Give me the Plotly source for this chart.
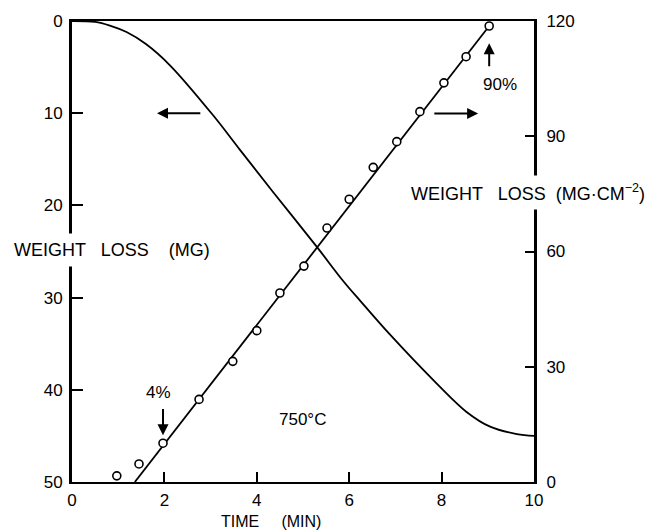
import plotly.graph_objects as go

# Weight loss curve (left axis, MG; reversed)
curve_time = [0, 0.5, 0.82, 1.18, 1.6, 2.12, 3.05, 3.64, 4.36, 5.30, 5.87, 6.23, 6.88, 7.89, 8.54, 9.05, 9.63, 10.0]
curve_mg = [0, 0.1, 0.5, 1.2, 2.5, 4.8, 10.2, 14.0, 18.6, 24.5, 28.2, 30.3, 34.0, 39.3, 42.4, 44.0, 44.8, 45.0]

# Measured points (right axis, MG/CM^2)
pt_time = [0.97, 1.45, 1.97, 2.75, 3.48, 4.0, 4.5, 5.02, 5.52, 6.0, 6.52, 7.03, 7.53, 8.05, 8.53, 9.03]
pt_loss = [1.6, 4.7, 10.1, 21.5, 31.4, 39.4, 49.2, 56.2, 66.1, 73.6, 81.9, 88.6, 96.4, 103.9, 110.7, 118.7]

# Straight fitted line (right axis)
fit_time = [1.36, 9.03]
fit_loss = [0, 118.7]

x_ticks = [0, 2, 4, 6, 8, 10]
left_ticks = [0, 10, 20, 30, 40, 50]
right_ticks = [0, 30, 60, 90, 120]

FONT = "Liberation Sans, Arial, sans-serif"
W, H = 656, 532
pl, pr, pt, pb = 72, 534, 19, 482

fig = go.Figure()
fig.add_trace(go.Scatter(x=curve_time, y=curve_mg, mode="lines",
                         line=dict(color="black", width=1.8, shape="spline", smoothing=1.0),
                         yaxis="y", showlegend=False))
fig.add_trace(go.Scatter(x=fit_time, y=fit_loss, mode="lines",
                         line=dict(color="black", width=1.8), yaxis="y2", showlegend=False))
fig.add_trace(go.Scatter(x=pt_time, y=pt_loss, mode="markers",
                         marker=dict(symbol="circle", size=8, color="white", line=dict(color="black", width=1.6)),
                         yaxis="y2", showlegend=False))

ann = []
def txt(x, y, s, xref="paper", yref="paper", size=17, bg=None, pad=1):
    d = dict(x=x, y=y, xref=xref, yref=yref, text=s, showarrow=False,
             font=dict(family=FONT, size=size, color="black"),
             xanchor="center", yanchor="middle", borderpad=pad)
    if bg:
        d["bgcolor"] = bg
    ann.append(d)

def arrow(x, y, ax, ay, yref):
    ann.append(dict(x=x, y=y, ax=ax, ay=ay, xref="x", yref=yref, axref="x", ayref=yref,
                    text="", showarrow=True, arrowhead=2, arrowsize=1.1, arrowwidth=2, arrowcolor="black"))

def paper_x(xp):
    return (xp - pl) / (pr - pl)
def paper_y(yp):
    return (pb - yp) / (pb - pt)

fig.update_layout(
    width=W, height=H,
    margin=dict(l=pl, r=W - pr, t=pt, b=H - pb),
    paper_bgcolor="white", plot_bgcolor="white",
    font=dict(family=FONT, size=16, color="black"),
    xaxis=dict(range=[0, 10], tickvals=x_ticks, ticks="inside", ticklen=10, tickwidth=2, tickcolor="black",
               showline=True, linewidth=2, linecolor="black", mirror=True, showgrid=False, zeroline=False,
               tickfont=dict(size=17), ticklabelstandoff=2),
    yaxis=dict(range=[50, 0], tickvals=left_ticks, ticks="inside", ticklen=11, tickwidth=2, tickcolor="black",
               showline=True, linewidth=3, linecolor="black", showgrid=False, zeroline=False,
               tickfont=dict(size=17), ticklabelstandoff=3),
    yaxis2=dict(range=[0, 120], tickvals=right_ticks, ticks="inside", ticklen=9, tickwidth=2, tickcolor="black",
                showline=True, linewidth=3, linecolor="black", showgrid=False, zeroline=False,
                overlaying="y", side="right", tickfont=dict(size=17), ticklabelstandoff=6),
)

txt(paper_x(112), paper_y(249), "WEIGHT   LOSS    (MG)", size=18, bg="white", pad=6)
txt(paper_x(528), paper_y(191), "WEIGHT   LOSS  (MG·CM<sup>−2</sup>)", size=18, bg="white", pad=5)
txt(paper_x(271), paper_y(522), "TIME     (MIN)", size=16)
txt(4.98, 16.3, "750°C", xref="x", yref="y2", size=17)
txt(1.88, 23.4, "4%", xref="x", yref="y2", size=17)
txt(9.26, 103.4, "90%", xref="x", yref="y2", size=17)
arrow(1.97, 12.2, 1.97, 19.4, "y2")
arrow(9.03, 114.2, 9.03, 107.8, "y2")
arrow(1.84, 10, 2.81, 10, "y")
arrow(8.79, 95.9, 7.81, 95.9, "y2")

fig.update_layout(annotations=ann)
fig.write_html("out.html")
